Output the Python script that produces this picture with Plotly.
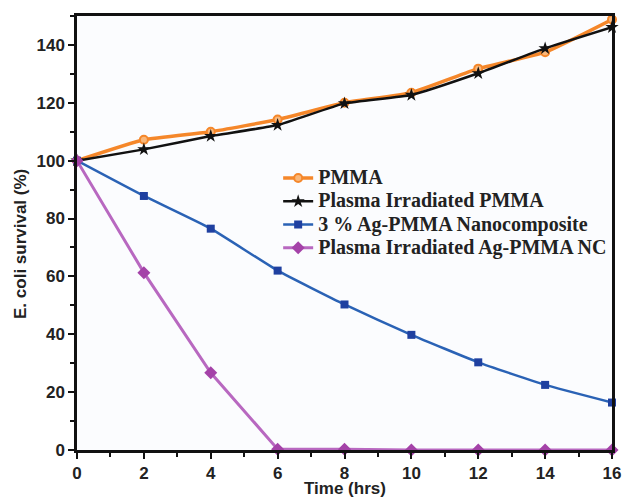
import plotly.graph_objects as go

time_hrs = [0, 2, 4, 6, 8, 10, 12, 14, 16]
pmma = [100, 107.2, 110.0, 114.2, 120.0, 123.5, 131.8, 137.5, 148.8]
plasma_pmma = [100, 103.9, 108.5, 112.3, 119.8, 122.7, 130.2, 138.8, 146.1]
ag_pmma = [100, 87.8, 76.5, 62.0, 50.3, 39.8, 30.3, 22.5, 16.4]
plasma_ag_pmma = [100, 61.3, 26.7, 0.3, 0.3, 0, 0, 0, 0]
x_ticks = [0, 2, 4, 6, 8, 10, 12, 14, 16]
y_ticks = [0, 20, 40, 60, 80, 100, 120, 140]

series = [
    ("PMMA", pmma, "#f5872a", dict(symbol="circle", size=8, color="#f9b77a", line=dict(color="#f5872a", width=2)), 3.5, "spline"),
    ("Plasma Irradiated PMMA", plasma_pmma, "#111111", dict(symbol="star", size=10, color="#111111"), 2.5, "spline"),
    ("3 % Ag-PMMA Nanocomposite", ag_pmma, "#2a62b5", dict(symbol="square", size=8, color="#1f40a0"), 2.5, "spline"),
    ("Plasma Irradiated Ag-PMMA NC", plasma_ag_pmma, "#b868c0", dict(symbol="diamond", size=10, color="#a442a8"), 3, "linear"),
]

fig = go.Figure()
for i, (name, vals, col, mk, lw, shp) in enumerate(series):
    line = dict(color=col, width=lw, shape=shp)
    if shp == "spline":
        line["smoothing"] = 0.4
    fig.add_trace(go.Scatter(
        x=time_hrs, y=vals,
        name='<span style="font-size:20px"><b>%s</b></span>' % name,
        mode="lines+markers", line=line, marker=mk, cliponaxis=False,
    ))

tickfont = dict(family="Liberation Sans", size=17, color="#222222")
fig.update_layout(
    width=624, height=498,
    margin=dict(l=77, r=12, t=16, b=48, autoexpand=False),
    paper_bgcolor="white", plot_bgcolor="#fbfcfe",
    showlegend=True,
    legend=dict(x=0.376, y=0.665, xanchor="left", yanchor="top",
                bgcolor="rgba(0,0,0,0)", tracegroupgap=0,
                font=dict(family="Liberation Serif", size=15.6, color="#222222")),
    annotations=[
        dict(text="<b>E. coli survival (%)</b>", xref="paper", yref="paper",
             x=-0.1047, y=0.4747, textangle=-90, showarrow=False,
             font=dict(family="Liberation Sans", size=17, color="#222222"),
             xanchor="center", yanchor="middle"),
        dict(text="<b>Time (hrs)</b>", xref="paper", yref="paper",
             x=0.5, y=-0.0887, showarrow=False,
             font=dict(family="Liberation Sans", size=17, color="#222222"),
             xanchor="center", yanchor="middle"),
    ],
)
fig.update_xaxes(
    range=[0, 16], tickvals=x_ticks,
    ticktext=["<b>%d</b>" % v for v in x_ticks],
    ticks="outside", ticklen=6, tickwidth=2, tickcolor="#111111",
    minor=dict(dtick=1, ticks="outside", ticklen=4, tickwidth=2, tickcolor="#111111"),
    showline=True, linecolor="#111111", linewidth=2.5, mirror=True,
    showgrid=False, zeroline=False, tickfont=tickfont, automargin=False,
)
fig.update_yaxes(
    range=[0, 150], tickvals=y_ticks,
    ticktext=["<b>%d</b>" % v for v in y_ticks],
    ticks="outside", ticklen=6, tickwidth=2, tickcolor="#111111",
    minor=dict(dtick=10, ticks="outside", ticklen=4, tickwidth=2, tickcolor="#111111"),
    showline=True, linecolor="#111111", linewidth=2.5, mirror=True,
    showgrid=False, zeroline=False, tickfont=tickfont, automargin=False,
)
fig.write_html(
    "out.html",
    config={"displayModeBar": False},
    post_script="document.body.style.margin='0';document.body.style.overflow='hidden';",
)
